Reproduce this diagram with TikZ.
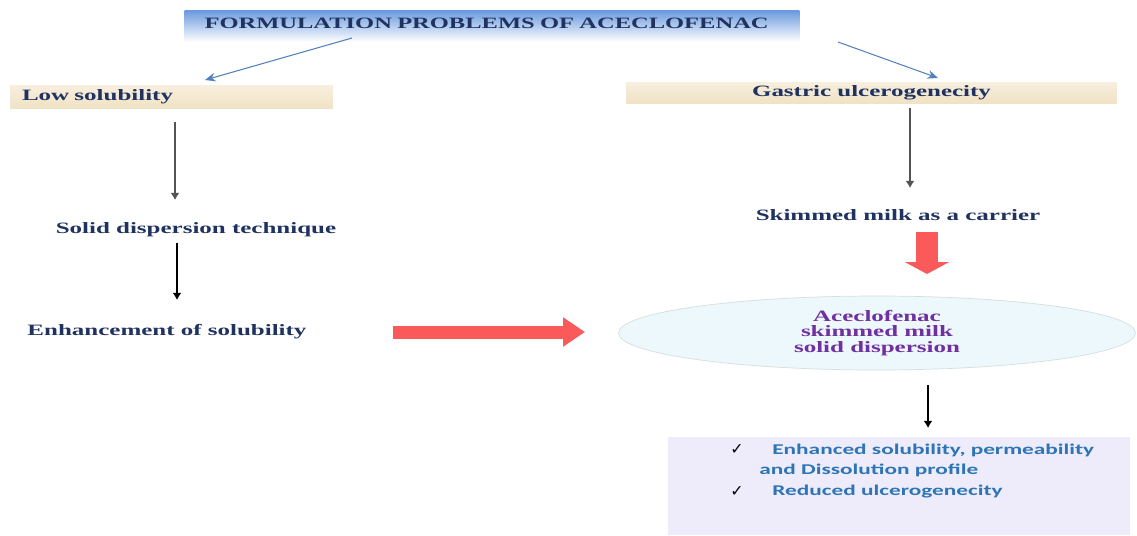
\documentclass[tikz,border=0pt]{standalone}
\usepackage{fontspec}
\usetikzlibrary{shapes.geometric,arrows.meta,calc}
\newfontfamily\serifw[FakeStretch=1.58]{Liberation Serif Bold}
\newfontfamily\titlew[FakeStretch=1.55]{Liberation Serif Bold}
\newfontfamily\sansw[FakeStretch=1.56]{Carlito Bold}
\newfontfamily\symw{DejaVu Sans}
\definecolor{navy}{RGB}{31,50,96}
\definecolor{titleblue}{RGB}{104,152,222}
\definecolor{tantop}{RGB}{248,239,222}
\definecolor{tanbot}{RGB}{240,226,197}
\definecolor{arrowred}{RGB}{250,90,90}
\definecolor{cyanfill}{RGB}{237,248,252}
\definecolor{ellline}{RGB}{214,222,222}
\definecolor{plum}{RGB}{112,48,160}
\definecolor{lavender}{RGB}{238,236,250}
\definecolor{textblue}{RGB}{46,117,182}
\definecolor{thinblue}{RGB}{84,130,190}
\tikzset{
  titlebox/.style={shading=axis, top color=titleblue, bottom color=white,
    minimum width=12.3cm, inner xsep=0.4cm, text width=11.5cm, align=left,
    inner ysep=0pt, text height=0.36cm, text depth=0.28cm,
    font=\titlew\fontsize{9}{9}\selectfont, text=navy},
  tanbox/.style={top color=tantop, bottom color=tanbot, inner ysep=0pt,
    font=\serifw\fontsize{9}{9}\selectfont, text=navy},
  lbl/.style={font=\serifw\fontsize{9}{9}\selectfont, text=navy, inner sep=1pt},
  bullet/.style={font=\sansw\fontsize{8.5}{8.5}\selectfont, text=textblue, anchor=west, inner sep=0pt},
  tick/.style={font=\symw\fontsize{9}{9}\selectfont, inner sep=0pt},
  thinarr/.style={draw=thinblue, line width=0.6pt, -{Stealth[length=6pt,width=5pt]}},
  grayarr/.style={draw=gray!65!black, line width=1.3pt, -{Latex[length=4pt,width=5pt]}},
  blackarr/.style={draw=black, line width=0.8pt, -{Latex[length=4pt,width=5pt]}},
  redarr/.style={draw=arrowred, line width=0.26cm, -{Triangle[width=0.56cm,length=0.44cm]}},
  reddown/.style={draw=arrowred, line width=0.44cm, -{Triangle[width=0.88cm,length=0.24cm]}}
}
\begin{document}
\begin{tikzpicture}[x=0.02cm,y=-0.02cm]
\useasboundingbox (0,0) rectangle (1137,535);

% boxes and labels
\node[titlebox] (title) at (492,26) {FORMULATION PROBLEMS OF ACECLOFENAC};
\node[tanbox, minimum width=6.46cm, minimum height=0.46cm, inner xsep=0.24cm,
  text width=5.98cm, align=left] (low) at (171.5,96.5) {Low solubility};
\node[tanbox, minimum width=9.82cm, minimum height=0.42cm] (gastric) at (871.5,92.5) {Gastric ulcerogenecity};
\node[lbl] (sdt) at (196,230) {Solid dispersion technique};
\node[lbl] (enh) at (167,332) {Enhancement of solubility};
\node[lbl] (skim) at (898,215) {Skimmed milk as a carrier};
\node[ellipse, draw=ellline, fill=cyanfill, minimum width=10.34cm, minimum height=1.48cm,
  inner sep=0pt, align=center, font=\serifw\fontsize{9}{8.8}\selectfont, text=plum]
  (disp) at (877,333) {Aceclofenac\\skimmed milk\\solid dispersion};
\node[fill=lavender, minimum width=9.24cm, minimum height=1.96cm, inner sep=0pt] (result) at (899,486) {};
\node[tick] (ck1) at (737,450) {✓};
\node[tick] (ck2) at (737,492) {✓};
\node[bullet] (r1) at (772,450) {Enhanced solubility, permeability};
\node[bullet] (r2) at (759,470) {and Dissolution profile};
\node[bullet] (r3) at (772,492) {Reduced ulcerogenecity};

% arrow ends
\coordinate (t1) at (352,38);
\coordinate (t2) at (838,42);
\coordinate (l1) at (205,80);
\coordinate (g1) at (938,78);
\coordinate (a1) at (175,122);
\coordinate (a2) at (175,200);
\coordinate (b1) at (177,243);
\coordinate (b2) at (177,300);
\coordinate (c1) at (910,108);
\coordinate (c2) at (910,188);
\coordinate (d1) at (928,385);
\coordinate (d2) at (928,428);
\coordinate (e1) at (393,332);
\coordinate (e2) at (585,332);
\coordinate (f1) at (927,232);
\coordinate (f2) at (927,274);

\draw[thinarr] (t1) -- (l1);
\draw[thinarr] (t2) -- (g1);
\draw[grayarr] (a1) -- (a2);
\draw[blackarr] (b1) -- (b2);
\draw[grayarr] (c1) -- (c2);
\draw[blackarr] (d1) -- (d2);
\draw[redarr] (e1) -- (e2);
\draw[reddown] (f1) -- (f2);
\end{tikzpicture}
\end{document}
